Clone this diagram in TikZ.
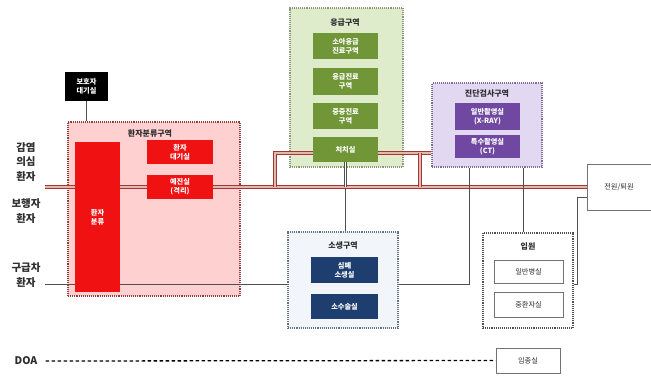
\documentclass[tikz,border=0pt]{standalone}
\usepackage{fontspec}
\setmainfont{Noto Sans CJK KR}
\usetikzlibrary{calc}
\definecolor{mainred}{RGB}{165,55,45}
\definecolor{maingap}{RGB}{225,185,180}
\definecolor{pinkfill}{RGB}{255,208,208}
\definecolor{pinkedge}{RGB}{150,60,60}
\definecolor{boxred}{RGB}{240,18,18}
\definecolor{greenfill}{RGB}{222,236,203}
\definecolor{greenedge}{RGB}{140,150,120}
\definecolor{boxgreen}{RGB}{112,150,55}
\definecolor{purplefill}{RGB}{226,216,242}
\definecolor{purpleedge}{RGB}{130,110,150}
\definecolor{boxpurple}{RGB}{112,72,162}
\definecolor{bluefill}{RGB}{242,246,251}
\definecolor{blueedge}{RGB}{100,115,130}
\definecolor{boxblue}{RGB}{30,62,112}
\definecolor{lgrey}{RGB}{80,80,80}
\definecolor{txtgrey}{RGB}{45,45,45}
\begin{document}
\begin{tikzpicture}[x=1pt,y=-1pt,
  zone/.style={draw=#1, densely dotted, line width=1.1pt, inner sep=0pt},
  kid/.style={fill=#1, draw=none, text=white, align=center, inner sep=0pt,
    font=\fontsize{7.2}{8.8}\selectfont\bfseries},
  wkid/.style={fill=white, draw=lgrey!80, line width=0.6pt, text=txtgrey, align=center, inner sep=0pt,
    font=\fontsize{7.2}{8.8}\selectfont},
  ttl/.style={font=\fontsize{8}{9.5}\selectfont\bfseries, text=txtgrey, inner sep=0pt},
  lab/.style={font=\fontsize{10.5}{14.5}\selectfont\bfseries, text=txtgrey, align=center, inner sep=0pt},
  mainline/.style={draw=mainred, double=maingap, double distance=2.2pt, line width=1.1pt},
  redline/.style={draw=mainred, double=maingap, double distance=1.4pt, line width=0.9pt},
  gline/.style={draw=lgrey, line width=1pt},
  gdouble/.style={draw=lgrey, double=white, double distance=1.6pt, line width=0.8pt}]
\useasboundingbox (0,0) rectangle (651,376);

% zones
\node[zone=pinkedge, fill=pinkfill, minimum width=172pt, minimum height=174pt] (triage) at (154,209) {};
\node[zone=greenedge, fill=greenfill, minimum width=113pt, minimum height=159pt] (er) at (346.5,87.5) {};
\node[zone=purpleedge, fill=purplefill, minimum width=110pt, minimum height=84pt] (dx) at (487,125) {};
\node[zone=blueedge, fill=bluefill, minimum width=110pt, minimum height=96pt] (res) at (343,280) {};
\node[zone=lgrey, fill=white, minimum width=90pt, minimum height=95pt] (adm) at (528,280.5) {};
\node[wkid, minimum width=64pt, minimum height=46pt] (out) at (619,187) {전원/퇴원};
\node[wkid, minimum width=64pt, minimum height=25pt] (mort) at (528,360.5) {임종실};

% titles
\node[ttl] (tt1) at (150,133) {환자분류구역};
\node[ttl] (tt2) at (345,23) {응급구역};
\node[ttl] (tt3) at (487,93) {진단검사구역};
\node[ttl] (tt4) at (343,246) {소생구역};
\node[ttl] (tt5) at (528,246) {입원};

% guard room
\node[fill=black, text=white, align=center, inner sep=0pt, minimum width=43pt, minimum height=29pt,
  font=\fontsize{7.2}{8.8}\selectfont\bfseries] (guard) at (86.5,86.5) {보호자\\대기실};

% left labels
\node[lab] (l1) at (26,162) {감염\\의심\\환자};
\node[lab] (l2) at (26,211) {보행자\\환자};
\node[lab] (l3) at (26,275) {구급차\\환자};
\node[lab] (l4) at (26,361) {DOA};

% helper coordinates
\coordinate (inL) at (45,187);
\coordinate (ambL) at (45,284);
\coordinate (xa) at (469,0);
\coordinate (xb) at (523,0);
\coordinate (xr1) at (275,0);
\coordinate (xr2) at (420,0);

\node[kid=boxgreen, minimum width=65pt, minimum height=26pt] (er1) at (345.5,46) {소아응급\\진료구역};
\node[kid=boxgreen, minimum width=65pt, minimum height=27pt] (er2) at (345.5,81.5) {응급진료\\구역};
\node[kid=boxgreen, minimum width=65pt, minimum height=26pt] (er3) at (345.5,116) {중증진료\\구역};
\coordinate (er4c) at (345.5,149.5);
\coordinate (rl) at (313,153);
\coordinate (rr) at (378,153);

% connectors
\draw[mainline] (inL) -- (out.west |- inL);
\draw[gline] (ambL) -- (res.west |- ambL);
\draw[gline] (res.east |- ambL) -| (dx.south -| xa);
\draw[gline] (dx.south -| xb) -- (adm.north -| xb);
\draw[gline] ($(out.west)+(0,10)$) -- ++(-9,0) |- (adm.east |- ambL);
\draw[gline] (guard.south) -- (triage.north -| guard.south);
\draw[redline] (rl) -| (inL -| xr1);
\draw[redline] (rr) -- (rr -| dx.west);
\draw[redline] (rr -| xr2) -- (inL -| xr2);
\draw[gdouble] (er4c) -- (er4c |- inL);
\draw[gline] ($(er4c |- inL)+(0,2)$) -- (er4c |- res.north);
\draw[line width=1.3pt, dash pattern=on 3.5pt off 2.5pt] (l4.east) ++(8,0) -- (mort.west);

% child boxes
\node[kid=boxgreen, minimum width=65pt, minimum height=25pt] (er4) at (er4c) {처치실};
\node[kid=boxred, minimum width=45pt, minimum height=150pt] (tri1) at (97.5,217) {환자\\분류};
\node[kid=boxred, minimum width=66pt, minimum height=24pt] (tri2) at (180,152) {환자\\대기실};
\node[kid=boxred, minimum width=66pt, minimum height=24pt] (tri3) at (180,187) {예진실\\(격리)};
\node[kid=boxpurple, minimum width=65pt, minimum height=27pt] (dx1) at (487.5,116.5) {일반촬영실\\(X-RAY)};
\node[kid=boxpurple, minimum width=65pt, minimum height=23pt] (dx2) at (487.5,146.5) {특수촬영실\\(CT)};
\node[kid=boxblue, minimum width=67pt, minimum height=26pt] (res1) at (344.5,270) {심폐\\소생실};
\node[kid=boxblue, minimum width=67pt, minimum height=25pt] (res2) at (344.5,306.5) {소수술실};
\node[wkid, minimum width=69pt, minimum height=23pt] (adm1) at (528.5,271.5) {일반병실};
\node[wkid, minimum width=69pt, minimum height=25pt] (adm2) at (528.5,304.5) {중환자실};
\end{tikzpicture}
\end{document}
